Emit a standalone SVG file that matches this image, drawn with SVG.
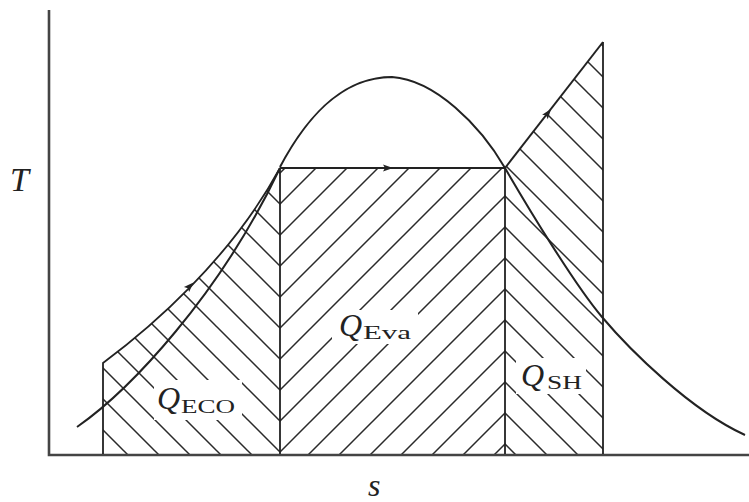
<svg xmlns="http://www.w3.org/2000/svg" width="749" height="502" viewBox="0 0 749 502">
<style>
.ln{fill:none;stroke:#222;stroke-width:2}
.bd{fill:none;stroke:#222;stroke-width:1.8}
.ax{fill:none;stroke:#444;stroke-width:2.6}
.ht{stroke:#2a2a2a;stroke-width:1.5;fill:none}
.q{font-family:"Liberation Serif","Times New Roman",serif;font-style:italic;font-size:32px;fill:#222}
.sub{font-family:"Liberation Serif","Times New Roman",serif;font-size:18px;fill:#222}
.gap{fill:#fff}
</style>
<defs>
<pattern id="hBackA" patternUnits="userSpaceOnUse" x="0" y="17" width="31" height="31">
<path class="ht" d="M-1,-1L32,32M-2,29L2,33M29,-2L33,2"/>
</pattern>
<pattern id="hFwd" patternUnits="userSpaceOnUse" x="0" y="19" width="31" height="31">
<path class="ht" d="M-1,32L32,-1M-2,2L2,-2M29,33L33,29"/>
</pattern>
<pattern id="hBackB" patternUnits="userSpaceOnUse" x="0" y="1" width="31" height="31">
<path class="ht" d="M-1,-1L32,32M-2,29L2,33M29,-2L33,2"/>
</pattern>
<path id="ah" d="M5,0L-5,-3.6L-3,0L-5,3.6Z" fill="#222"/>
</defs>

<g id="regions">
<path id="region-eco" d="M103,454L103,363C150,328 230,260 280,168L280,454Z" fill="url(#hBackA)"/>
<rect id="region-eva" x="280" y="168" width="225" height="286" fill="url(#hFwd)"/>
<path id="region-sh" d="M505,454L505,168L603,42L603,454Z" fill="url(#hBackB)"/>
<rect class="gap" x="154" y="380" width="88" height="40"/>
<rect class="gap" x="332" y="310" width="86" height="34"/>
<rect class="gap" x="516" y="358" width="70" height="36"/>
</g>

<g id="axes">
<path class="ax" d="M49,10L49,455L749,455"/>
</g>

<g id="connectors">
<path class="bd" d="M103,454L103,363C150,328 230,260 280,168"/>
<path class="ln" d="M77,427C130,390 220,295 280,168"/>
<path class="ln" d="M280,167C305,120 340,77 392,77C435,80 480,125 505,168C530,211 575,285 602,317C629,349 690,410 745,435"/>
<path class="bd" d="M280,168L505,168"/>
<path class="bd" d="M280,168L280,454M505,168L505,454M603,42L603,454"/>
<path class="ln" d="M505,168L603,42"/>
<use href="#ah" transform="translate(190,286) rotate(-46)"/>
<use href="#ah" transform="translate(388,168)"/>
<use href="#ah" transform="translate(548,113) rotate(-52)"/>
</g>

<g id="labels">
<text x="10" y="191" class="q" style="font-size:34px">T</text>
<text x="368" y="496" class="q">s</text>
<g id="label-eco"><text x="157" y="409" class="q">Q</text><text x="181" y="413" class="sub" textLength="54" lengthAdjust="spacingAndGlyphs">ECO</text></g>
<g id="label-eva"><text x="339" y="336" class="q">Q</text><text x="363" y="339" class="sub" textLength="48" lengthAdjust="spacingAndGlyphs">Eva</text></g>
<g id="label-sh"><text x="521" y="386" class="q">Q</text><text x="547" y="389" class="sub" textLength="35" lengthAdjust="spacingAndGlyphs">SH</text></g>
</g>
</svg>
